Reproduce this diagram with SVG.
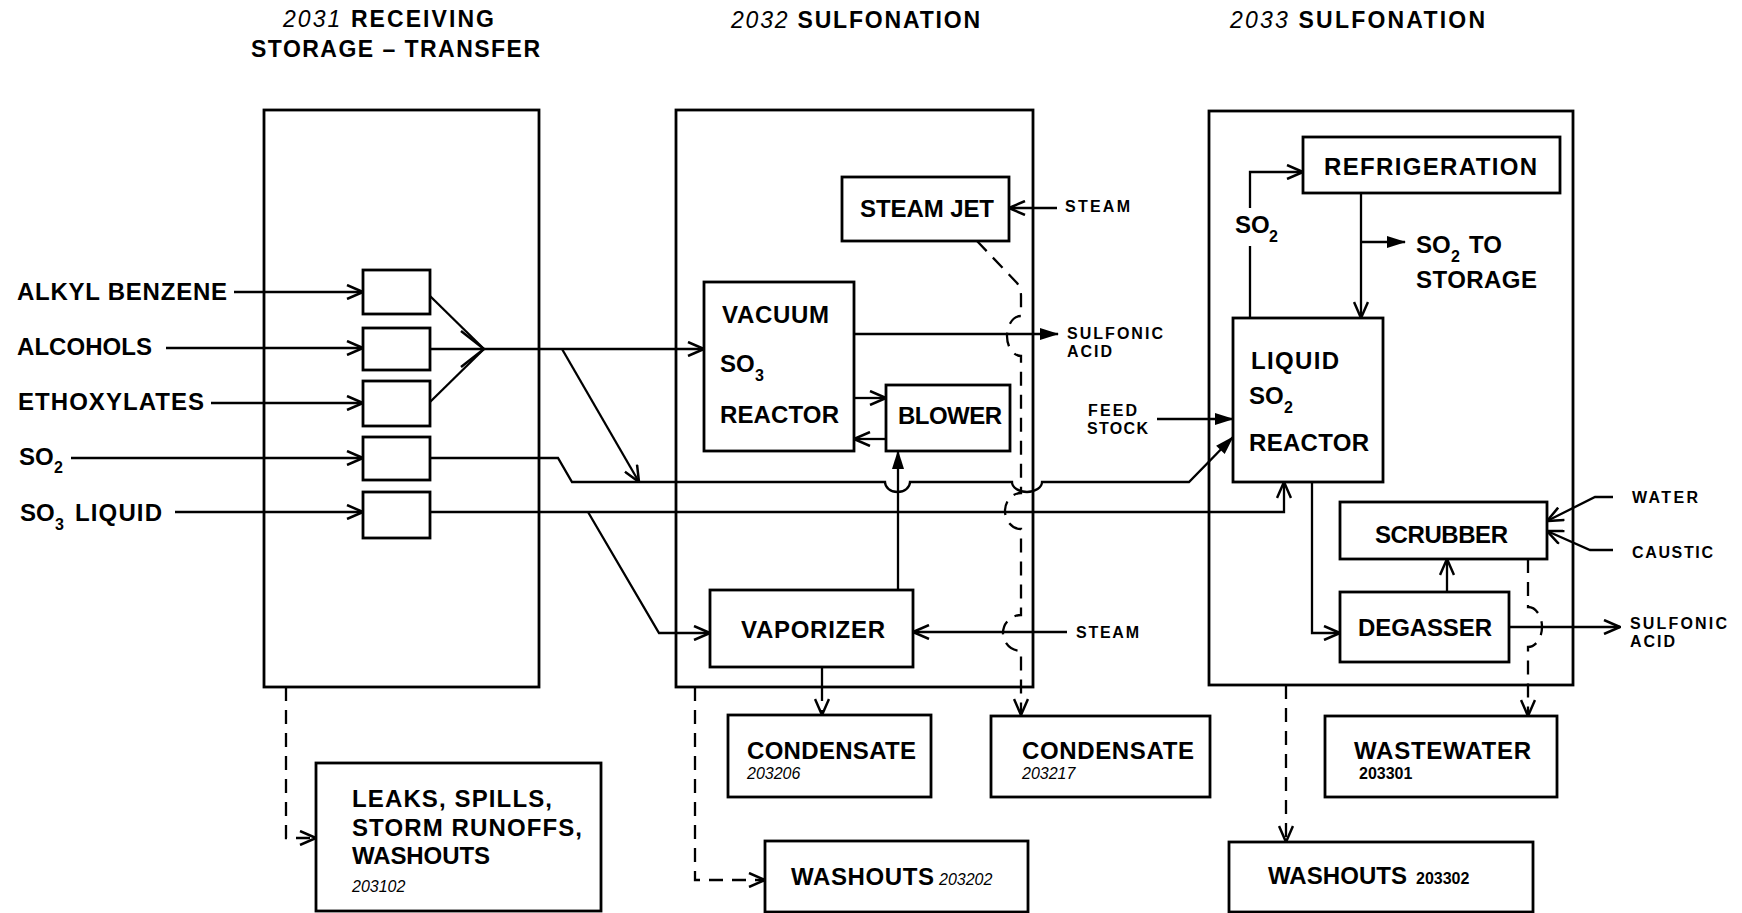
<svg xmlns="http://www.w3.org/2000/svg" width="1742" height="913" viewBox="0 0 1742 913">
<defs>
<style>
.box{fill:none;stroke:#000;stroke-width:2.8}
.ln{fill:none;stroke:#000;stroke-width:2.3}
.ds{fill:none;stroke:#000;stroke-width:2.3;stroke-dasharray:14 9}
text{font-family:"Liberation Sans",Arial,Helvetica,sans-serif;font-weight:bold;fill:#000}
.ti{font-size:23px}
.lg{font-size:24px}
.sm{font-size:16px}
.sub{font-size:16px}
.it{font-style:italic;font-weight:normal}
.rg{font-weight:normal}
</style>
<marker id="a" viewBox="0 0 20 16" refX="19" refY="8" markerWidth="20" markerHeight="16" markerUnits="userSpaceOnUse" orient="auto">
<path d="M3,1 L19,8 L3,15" fill="none" stroke="#000" stroke-width="2.5"/>
</marker>
<marker id="f" viewBox="0 0 20 16" refX="19" refY="8" markerWidth="20" markerHeight="16" markerUnits="userSpaceOnUse" orient="auto">
<path d="M1,2 L20,8 L1,14 z" fill="#000"/>
</marker>
<marker id="b" viewBox="0 0 30 40" refX="29" refY="20" markerWidth="30" markerHeight="40" markerUnits="userSpaceOnUse" orient="auto">
<path d="M6,2 L29,20 L6,38" fill="none" stroke="#000" stroke-width="2.5"/>
</marker>
</defs>
<rect width="1742" height="913" fill="#fff"/>

<g id="titles">
<text class="ti" x="283" y="27" textLength="211" lengthAdjust="spacing"><tspan class="it">2031</tspan> RECEIVING</text>
<text class="ti" x="251" y="57" textLength="289" lengthAdjust="spacing">STORAGE – TRANSFER</text>
<text class="ti" x="731" y="28" textLength="249" lengthAdjust="spacing"><tspan class="it">2032</tspan> SULFONATION</text>
<text class="ti" x="1230" y="28" textLength="255" lengthAdjust="spacing"><tspan class="it">2033</tspan> SULFONATION</text>
</g>

<g id="area-2031"><rect class="box" x="264" y="110" width="275" height="577"/></g>
<g id="area-2032"><rect class="box" x="676" y="110" width="357" height="577"/></g>
<g id="area-2033"><rect class="box" x="1209" y="111" width="364" height="574"/></g>

<g id="feed-labels">
<text class="lg" x="17" y="300" textLength="210" lengthAdjust="spacing">ALKYL BENZENE</text>
<text class="lg" x="17" y="355" textLength="135" lengthAdjust="spacing">ALCOHOLS</text>
<text class="lg" x="18" y="410" textLength="186" lengthAdjust="spacing">ETHOXYLATES</text>
<text class="lg" x="19" y="465">SO</text><text class="sub" x="54" y="473">2</text>
<text class="lg" x="20" y="521">SO</text><text class="sub" x="55" y="530">3</text>
<text class="lg" x="75" y="521" textLength="87" lengthAdjust="spacing">LIQUID</text>
</g>

<g id="tank-1"><rect class="box" x="363" y="270" width="67" height="44"/></g>
<g id="tank-2"><rect class="box" x="363" y="328" width="67" height="42"/></g>
<g id="tank-3"><rect class="box" x="363" y="381" width="67" height="45"/></g>
<g id="tank-4"><rect class="box" x="363" y="437" width="67" height="43"/></g>
<g id="tank-5"><rect class="box" x="363" y="492" width="67" height="46"/></g>

<g id="steam-jet">
<rect class="box" x="842" y="177" width="167" height="64"/>
<text class="lg" x="860" y="217" textLength="134" lengthAdjust="spacing">STEAM JET</text>
</g>
<g id="vacuum-reactor">
<rect class="box" x="704" y="282" width="150" height="169"/>
<text class="lg" x="722" y="323" textLength="107" lengthAdjust="spacing">VACUUM</text>
<text class="lg" x="720" y="372">SO</text><text class="sub" x="755" y="381">3</text>
<text class="lg" x="720" y="423" textLength="119" lengthAdjust="spacing">REACTOR</text>
</g>
<g id="blower">
<rect class="box" x="886" y="385" width="124" height="66"/>
<text class="lg" x="898" y="424" textLength="104" lengthAdjust="spacing">BLOWER</text>
</g>
<g id="vaporizer">
<rect class="box" x="710" y="590" width="203" height="77"/>
<text class="lg" x="741" y="638" textLength="144" lengthAdjust="spacing">VAPORIZER</text>
</g>
<g id="labels-2032">
<text class="sm" x="1065" y="212" textLength="65" lengthAdjust="spacing">STEAM</text>
<text class="sm" x="1067" y="339" textLength="96" lengthAdjust="spacing">SULFONIC</text>
<text class="sm" x="1067" y="357" textLength="45" lengthAdjust="spacing">ACID</text>
<text class="sm" x="1088" y="416" textLength="49" lengthAdjust="spacing">FEED</text>
<text class="sm" x="1087" y="434" textLength="61" lengthAdjust="spacing">STOCK</text>
<text class="sm" x="1076" y="638" textLength="63" lengthAdjust="spacing">STEAM</text>
</g>

<g id="refrigeration">
<rect class="box" x="1303" y="137" width="257" height="56"/>
<text class="lg" x="1324" y="175" textLength="213" lengthAdjust="spacing">REFRIGERATION</text>
</g>
<g id="liquid-reactor">
<rect class="box" x="1233" y="318" width="150" height="164"/>
<text class="lg" x="1251" y="369" textLength="88" lengthAdjust="spacing">LIQUID</text>
<text class="lg" x="1249" y="404">SO</text><text class="sub" x="1284" y="413">2</text>
<text class="lg" x="1249" y="451" textLength="120" lengthAdjust="spacing">REACTOR</text>
</g>
<g id="scrubber">
<rect class="box" x="1340" y="502" width="207" height="57"/>
<text class="lg" x="1375" y="543" textLength="133" lengthAdjust="spacing">SCRUBBER</text>
</g>
<g id="degasser">
<rect class="box" x="1340" y="592" width="169" height="70"/>
<text class="lg" x="1358" y="636" textLength="134" lengthAdjust="spacing">DEGASSER</text>
</g>
<g id="labels-2033">
<text class="lg" x="1235" y="233">SO</text><text class="sub" x="1269" y="242">2</text>
<text class="lg" x="1416" y="253">SO</text><text class="sub" x="1451" y="262">2</text>
<text class="lg" x="1469" y="253">TO</text>
<text class="lg" x="1416" y="288" textLength="121" lengthAdjust="spacing">STORAGE</text>
<text class="sm" x="1632" y="503" textLength="66" lengthAdjust="spacing">WATER</text>
<text class="sm" x="1632" y="558" textLength="81" lengthAdjust="spacing">CAUSTIC</text>
<text class="sm" x="1630" y="629" textLength="97" lengthAdjust="spacing">SULFONIC</text>
<text class="sm" x="1630" y="647" textLength="45" lengthAdjust="spacing">ACID</text>
</g>

<g id="leaks">
<rect class="box" x="316" y="763" width="285" height="148"/>
<text class="lg" x="352" y="807" textLength="200" lengthAdjust="spacing">LEAKS, SPILLS,</text>
<text class="lg" x="352" y="836" textLength="230" lengthAdjust="spacing">STORM RUNOFFS,</text>
<text class="lg" x="352" y="864" textLength="138" lengthAdjust="spacing">WASHOUTS</text>
<text class="sm it" x="352" y="892">203102</text>
</g>
<g id="condensate-203206">
<rect class="box" x="728" y="715" width="203" height="82"/>
<text class="lg" x="747" y="759" textLength="169" lengthAdjust="spacing">CONDENSATE</text>
<text class="sm it" x="747" y="779">203206</text>
</g>
<g id="condensate-203217">
<rect class="box" x="991" y="716" width="219" height="81"/>
<text class="lg" x="1022" y="759" textLength="172" lengthAdjust="spacing">CONDENSATE</text>
<text class="sm it" x="1022" y="779">203217</text>
</g>
<g id="wastewater">
<rect class="box" x="1325" y="716" width="232" height="81"/>
<text class="lg" x="1354" y="759" textLength="177" lengthAdjust="spacing">WASTEWATER</text>
<text class="sm" x="1359" y="779">203301</text>
</g>
<g id="washouts-203202">
<rect class="box" x="765" y="841" width="263" height="71"/>
<text class="lg" x="791" y="885" textLength="143" lengthAdjust="spacing">WASHOUTS</text>
<text class="sm it" x="939" y="885">203202</text>
</g>
<g id="washouts-203302">
<rect class="box" x="1229" y="842" width="304" height="70"/>
<text class="lg" x="1268" y="884" textLength="139" lengthAdjust="spacing">WASHOUTS</text>
<text class="sm" x="1416" y="884">203302</text>
</g>

<g id="connectors">
<path class="ln" d="M234,292 L363,292" marker-end="url(#a)"/>
<path class="ln" d="M166,348 L363,348" marker-end="url(#a)"/>
<path class="ln" d="M211,403 L363,403" marker-end="url(#a)"/>
<path class="ln" d="M71,458 L363,458" marker-end="url(#a)"/>
<path class="ln" d="M175,512 L363,512" marker-end="url(#a)"/>
<path class="ln" d="M430,296 L484,349"/>
<path class="ln" d="M430,402 L484,349"/>
<path class="ln" d="M430,349 L484,349" marker-end="url(#b)"/>
<path class="ln" d="M484,349 L704,349" marker-end="url(#a)"/>
<path class="ln" d="M562,349 L639,482" marker-end="url(#a)"/>
<path class="ln" d="M430,458 L558,458 L572,482 L885,482 A12.5,10 0 0 0 910,482 L1012,482 A15,10 0 0 0 1042,482 L1189,482 L1233,437" marker-end="url(#f)"/>
<path class="ln" d="M430,512 L1284,512 L1284,482" marker-end="url(#a)"/>
<path class="ln" d="M588,512 L659,633 L710,633" marker-end="url(#a)"/>
<path class="ln" d="M898,590 L898,451" marker-end="url(#f)"/>
<path class="ln" d="M854,398 L886,398" marker-end="url(#a)"/>
<path class="ln" d="M886,439 L854,439" marker-end="url(#a)"/>
<path class="ln" d="M854,334 L1058,334" marker-end="url(#f)"/>
<path class="ln" d="M1057,208 L1009,208" marker-end="url(#a)"/>
<path class="ln" d="M1067,632 L913,632" marker-end="url(#a)"/>
<path class="ds" d="M977,241 L1017,283 Q1021,288 1021,296 L1021,316 A14,20 0 0 0 1021,356 L1021,493 A16,18 0 0 0 1021,529 L1021,615 A18,18 0 0 0 1021,651 L1021,715" marker-end="url(#a)"/>
<path class="ln" d="M822,667 L822,687"/>
<path class="ds" d="M822,687 L822,715" marker-end="url(#a)"/>
<path class="ds" d="M286,687 L286,838 L316,838" marker-end="url(#a)"/>
<path class="ds" d="M695,687 L695,880 L765,880" marker-end="url(#a)"/>
<path class="ds" d="M1286,685 L1286,842" marker-end="url(#a)"/>
<path class="ds" d="M1528,559 L1528,607 A14,20 0 0 1 1528,647 L1528,716" marker-end="url(#a)"/>
<path class="ln" d="M1157,419 L1233,419" marker-end="url(#f)"/>
<path class="ln" d="M1250,318 L1250,246"/>
<path class="ln" d="M1250,208 L1250,172 L1303,172" marker-end="url(#a)"/>
<path class="ln" d="M1361,193 L1361,318" marker-end="url(#a)"/>
<path class="ln" d="M1361,242 L1405,242" marker-end="url(#f)"/>
<path class="ln" d="M1312,482 L1312,633 L1340,633" marker-end="url(#a)"/>
<path class="ln" d="M1447,592 L1447,559" marker-end="url(#a)"/>
<path class="ln" d="M1613,497 L1595,497 L1547,521" marker-end="url(#a)"/>
<path class="ln" d="M1613,550 L1590,550 L1547,531" marker-end="url(#a)"/>
<path class="ln" d="M1509,627 L1620,627" marker-end="url(#a)"/>
</g>
</svg>
